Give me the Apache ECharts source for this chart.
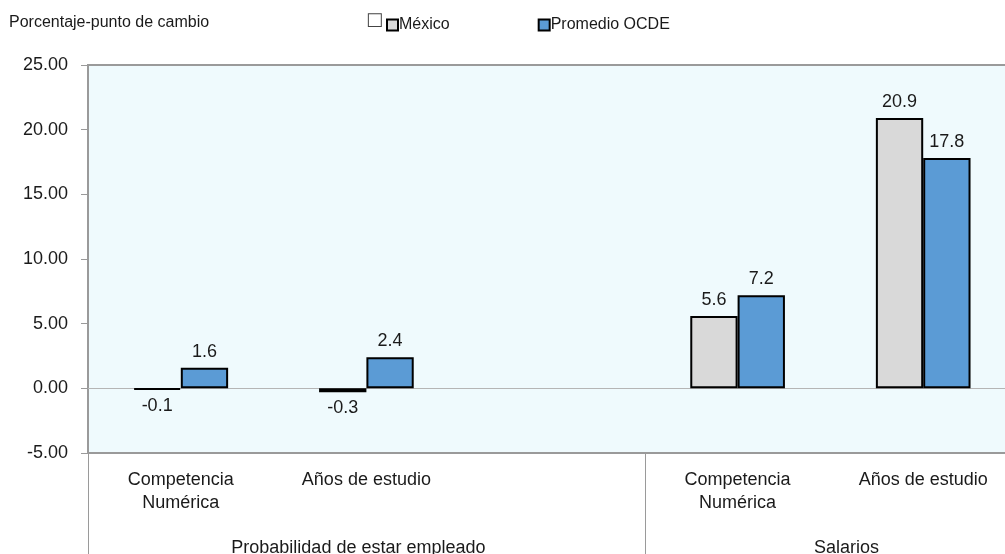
<!DOCTYPE html>
<html>
<head>
<meta charset="utf-8">
<script src="https://cdn.jsdelivr.net/npm/echarts@6/dist/echarts.min.js"></script>
<style>
    html, body { margin: 0; padding: 0; background: #fff; }
    #main { width: 1005px; height: 554px; }
</style>
</head>
<body>
<div id="main"></div>
<script>
var categories = ['Competencia\nNumérica', 'Años de estudio', '', 'Competencia\nNumérica', 'Años de estudio'];
var groupNames = ['Probabilidad de estar empleado', 'Salarios'];
var mexicoValues = [-0.1, -0.3, '-', 5.6, 20.9];
var ocdeValues = [1.6, 2.4, '-', 7.2, 17.8];
var seriesNames = ['México', 'Promedio OCDE'];

var fontFamily = '"Liberation Sans", Arial, sans-serif';

function barData(values) {
    return values.map(function (v) {
        if (typeof v === 'number' && v < 0) {
            return { value: v, label: { position: 'bottom' } };
        }
        return v;
    });
}

var myChart = echarts.init(document.getElementById('main'));

var option = {
    backgroundColor: '#fff',
    animation: false,
    textStyle: { fontFamily: fontFamily },
    title: {
        text: 'Porcentaje-punto de cambio',
        left: 4,
        top: 10,
        textStyle: { fontSize: 16, fontWeight: 'normal', color: '#1a1a1a', fontFamily: fontFamily }
    },
    legend: {
        left: 381,
        top: 12,
        itemWidth: 11,
        itemHeight: 11,
        itemGap: 88,
        icon: 'rect',
        textStyle: { fontSize: 16, color: '#1a1a1a', fontFamily: fontFamily, padding: [0, 0, 0, -4] },
        data: seriesNames
    },
    grid: {
        left: 88,
        top: 65,
        width: 928,
        bottom: 101,
        outerBoundsMode: 'none',
        containLabel: false,
        show: true,
        backgroundColor: '#effafd',
        borderColor: '#9a9a9a',
        borderWidth: 2
    },
    xAxis: {
        type: 'category',
        data: categories,
        axisLine: { show: true, onZero: false, lineStyle: { color: '#9a9a9a', width: 2 } },
        axisTick: {
            show: true,
            length: 101,
            interval: function (index) {
                return index === 0 || index === 3;
            },
            lineStyle: { color: '#9a9a9a', width: 1 }
        },
        axisLabel: {
            interval: 0,
            margin: 16,
            fontSize: 18,
            lineHeight: 23,
            color: '#1a1a1a',
            fontFamily: fontFamily
        },
        splitLine: { show: false }
    },
    yAxis: {
        type: 'value',
        min: -5,
        max: 25,
        interval: 5,
        axisLine: { show: true, lineStyle: { color: '#9a9a9a', width: 2 } },
        axisTick: { show: true, inside: false, length: 7, lineStyle: { color: '#9a9a9a', width: 1 } },
        axisLabel: {
            margin: 20,
            fontSize: 18,
            color: '#1a1a1a',
            fontFamily: fontFamily,
            formatter: function (v) { return v.toFixed(2); }
        },
        splitLine: { show: false }
    },
    series: [
        {
            name: seriesNames[0],
            type: 'bar',
            barGap: '0%',
            barCategoryGap: '49%',
            itemStyle: { color: '#d9d9d9', borderColor: '#000', borderWidth: 2 },
            label: {
                show: true,
                position: 'top',
                distance: 7,
                fontSize: 18,
                color: '#1a1a1a',
                fontFamily: fontFamily
            },
            markLine: {
                silent: true,
                symbol: 'none',
                label: { show: false },
                lineStyle: { color: '#b5b5b5', width: 1, type: 'solid' },
                data: [{ yAxis: 0 }],
                z: 1
            },
            data: barData(mexicoValues)
        },
        {
            name: seriesNames[1],
            type: 'bar',
            itemStyle: { color: '#5b9bd5', borderColor: '#000', borderWidth: 2 },
            label: {
                show: true,
                position: 'top',
                distance: 7,
                fontSize: 18,
                color: '#1a1a1a',
                fontFamily: fontFamily
            },
            data: barData(ocdeValues)
        }
    ]
};

myChart.setOption(option);

// group labels under the category labels
var x1 = myChart.convertToPixel({ xAxisIndex: 0 }, 1);
var x3 = myChart.convertToPixel({ xAxisIndex: 0 }, 3);
var x4 = myChart.convertToPixel({ xAxisIndex: 0 }, 4);
myChart.setOption({
    graphic: [
        {
            type: 'text',
            left: 366,
            top: 11,
            style: { text: '□', fontSize: 18, fill: '#444', fontFamily: '"DejaVu Sans", sans-serif' }
        },
        {
            type: 'text',
            x: x1 - 8,
            y: 548,
            style: {
                text: groupNames[0], fontSize: 18, fill: '#1a1a1a', fontFamily: fontFamily,
                align: 'center', verticalAlign: 'middle'
            }
        },
        {
            type: 'text',
            x: (x3 + x4) / 2 + 16,
            y: 548,
            style: {
                text: groupNames[1], fontSize: 18, fill: '#1a1a1a', fontFamily: fontFamily,
                align: 'center', verticalAlign: 'middle'
            }
        }
    ]
});
</script>
</body>
</html>
